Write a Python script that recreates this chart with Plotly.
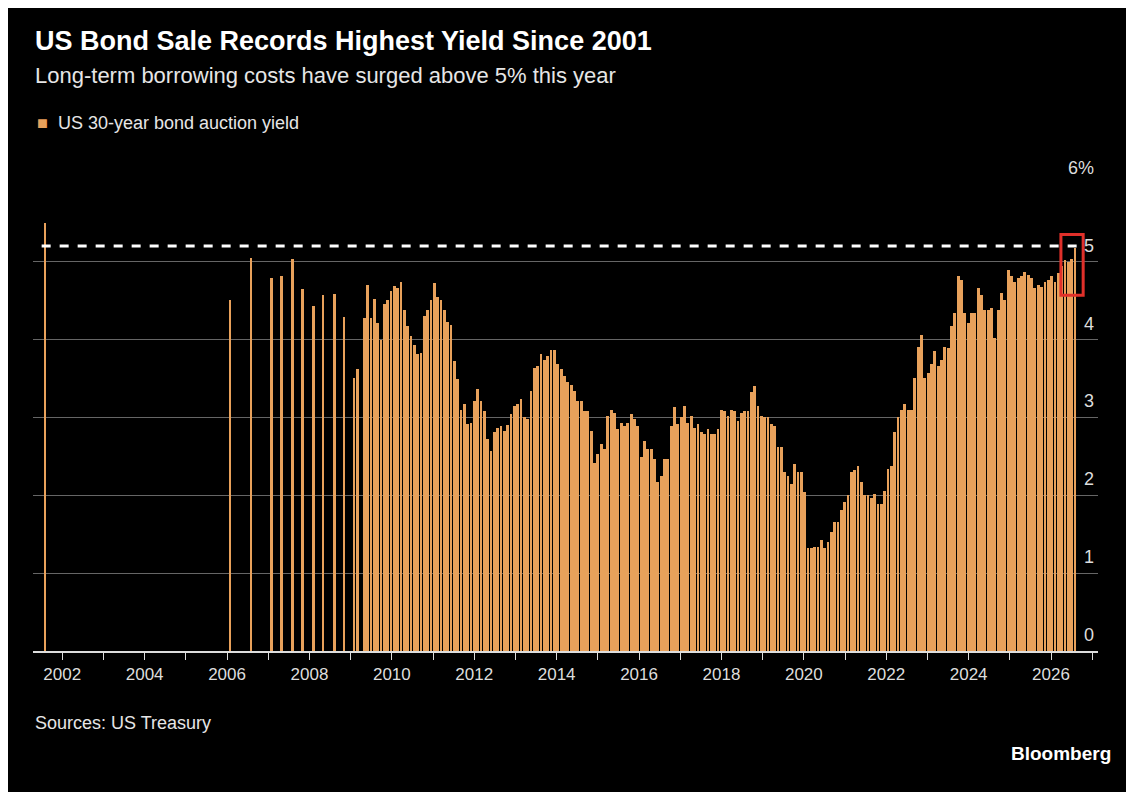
import numpy as np
import plotly.graph_objects as go

# quarterly / sparse auctions before monthly reopenings (decimal years)
early_x = [2001.58, 2006.07, 2006.58, 2007.07, 2007.33, 2007.58, 2007.84,
           2008.09, 2008.33, 2008.6, 2008.84, 2009.08, 2009.16]
early_y = [5.50, 4.51, 5.05, 4.79, 4.82, 5.03, 4.65, 4.43, 4.57, 4.59, 4.29, 3.51, 3.62]

# monthly auctions, Apr 2009 onwards
monthly_y = [
    4.27, 4.70, 4.27, 4.52, 4.21, 3.99, 4.45, 4.51, 4.62, 4.69, 4.66, 4.74, 4.38, 4.17,
    4.04, 3.93, 3.81, 3.83, 4.30, 4.38, 4.51, 4.72, 4.55, 4.51, 4.38, 4.23, 4.19, 3.72,
    3.49, 3.10, 3.17, 2.91, 2.93, 3.21, 3.36, 3.21, 3.08, 2.72, 2.57, 2.81, 2.87, 2.89,
    2.83, 2.90, 3.04, 3.15, 3.17, 3.23, 3.00, 2.98, 3.34, 3.64, 3.66, 3.81, 3.74, 3.79,
    3.87, 3.87, 3.68, 3.62, 3.53, 3.45, 3.41, 3.34, 3.21, 3.21, 3.08, 3.08, 2.83, 2.42,
    2.53, 2.66, 2.59, 3.02, 3.10, 3.06, 2.85, 2.93, 2.89, 2.93, 3.04, 2.98, 2.89, 2.49,
    2.70,
    2.59, 2.59, 2.47, 2.17, 2.25, 2.47, 2.47, 2.89, 3.13, 2.91, 3.00, 3.15, 2.93, 3.02,
    2.87, 2.91, 2.81, 2.79, 2.85, 2.79, 2.79, 2.85, 3.10, 3.08, 3.02, 3.10, 3.08, 2.96,
    3.06, 3.08, 3.08, 3.32, 3.40, 3.15, 3.02, 3.00, 3.00, 2.91, 2.89, 2.62, 2.62, 2.30,
    2.25, 2.15, 2.40, 2.30, 2.30, 2.04, 1.32, 1.32, 1.33, 1.34, 1.42, 1.32, 1.40, 1.53,
    1.66, 1.66, 1.81, 1.91, 2.00, 2.30, 2.32, 2.38, 2.17, 2.00, 2.00, 1.96, 2.02, 1.89,
    1.89, 2.06, 2.34, 2.38, 2.81, 3.00, 3.10, 3.17, 3.10, 3.10, 3.51, 3.91, 4.06, 3.51,
    3.57, 3.68, 3.85, 3.66, 3.74, 3.91, 3.89, 4.17, 4.34, 4.81, 4.77, 4.34, 4.21, 4.34,
    4.34, 4.66, 4.57, 4.38, 4.38, 4.40, 4.02, 4.38, 4.60, 4.51, 4.89, 4.81, 4.74, 4.79,
    4.81, 4.87, 4.83, 4.79, 4.66, 4.70, 4.68, 4.74, 4.77, 4.81, 4.74, 4.85, 4.94, 5.02,
    5.00, 5.04, 5.17,
]
monthly_x = np.linspace(2009.33, 2026.58, len(monthly_y))

x = list(early_x) + list(monthly_x)
y = early_y + monthly_y

ref_level = 5.2
years = list(range(2002, 2028))
y_ticks = [0, 1, 2, 3, 4, 5, 6]
y_labels = ["0", "1", "2", "3", "4", "5", "6%"]

W, H = 1134, 792
L, R, T, B = 25, 44, 175, 149
PW, PH = W - L - R, H - T - B


def px(xp):
    return (xp - L) / PW


def py(yp):
    return (H - B - yp) / PH


orange = "#E8A15B"
fig = go.Figure()
fig.add_trace(go.Bar(x=x, y=y, width=0.068, marker_color=orange, marker_line_width=0))

fig.add_shape(type="line", xref="x", yref="y", x0=2001.5, x1=2026.75, y0=ref_level, y1=ref_level,
              line=dict(color="white", width=3, dash="dash"))
fig.add_shape(type="rect", xref="x", yref="y", x0=2026.24, x1=2026.78, y0=4.57, y1=5.35,
              line=dict(color="#E0302A", width=3))

for v, t in zip(y_ticks, y_labels):
    fig.add_annotation(x=1.0, xref="paper", y=v, yref="y", text=t, showarrow=False,
                       xanchor="right", yanchor="bottom", yshift=4, xshift=-2,
                       font=dict(size=18, color="#dddddd"))

fig.add_annotation(x=px(25), y=py(33), xref="paper", yref="paper", text="<b>US Bond Sale Records Highest Yield Since 2001</b>",
                   showarrow=False, xanchor="left", yanchor="middle", font=dict(size=27, color="white"))
fig.add_annotation(x=px(25), y=py(68), xref="paper", yref="paper", text="Long-term borrowing costs have surged above 5% this year",
                   showarrow=False, xanchor="left", yanchor="middle", font=dict(size=22, color="#e6e6e6"))
fig.add_annotation(x=px(27), y=py(115), xref="paper", yref="paper", text="<span style='color:%s'>■</span>  US 30-year bond auction yield" % orange,
                   showarrow=False, xanchor="left", yanchor="middle", font=dict(size=18, color="#e6e6e6"))
fig.add_annotation(x=px(25), y=py(715), xref="paper", yref="paper", text="Sources: US Treasury",
                   showarrow=False, xanchor="left", yanchor="middle", font=dict(size=18, color="#e6e6e6"))
fig.add_annotation(x=px(1105), y=py(745), xref="paper", yref="paper", text="<b>Bloomberg</b>",
                   showarrow=False, xanchor="right", yanchor="middle", font=dict(size=19, color="white"))

fig.update_layout(
    width=W, height=H,
    paper_bgcolor="black", plot_bgcolor="black",
    margin=dict(l=L, r=R, t=T, b=B),
    showlegend=False, bargap=0,
    font=dict(family="Liberation Sans, Arial", color="#e6e6e6"),
)
fig.update_xaxes(range=[2001.29, 2027.14], tickvals=years,
                 ticktext=[str(yr) if yr % 2 == 0 else "" for yr in years],
                 ticks="outside", ticklen=7, tickcolor="#dddddd", tickwidth=1,
                 showgrid=False, showline=True, linecolor="#dddddd", linewidth=2,
                 tickfont=dict(size=17, color="#dddddd"), fixedrange=True)
fig.update_yaxes(range=[0, 6.01], tickvals=y_ticks, showticklabels=False,
                 showgrid=True, gridcolor="#666666", gridwidth=1, zeroline=False)

fig.write_html("out.html")
